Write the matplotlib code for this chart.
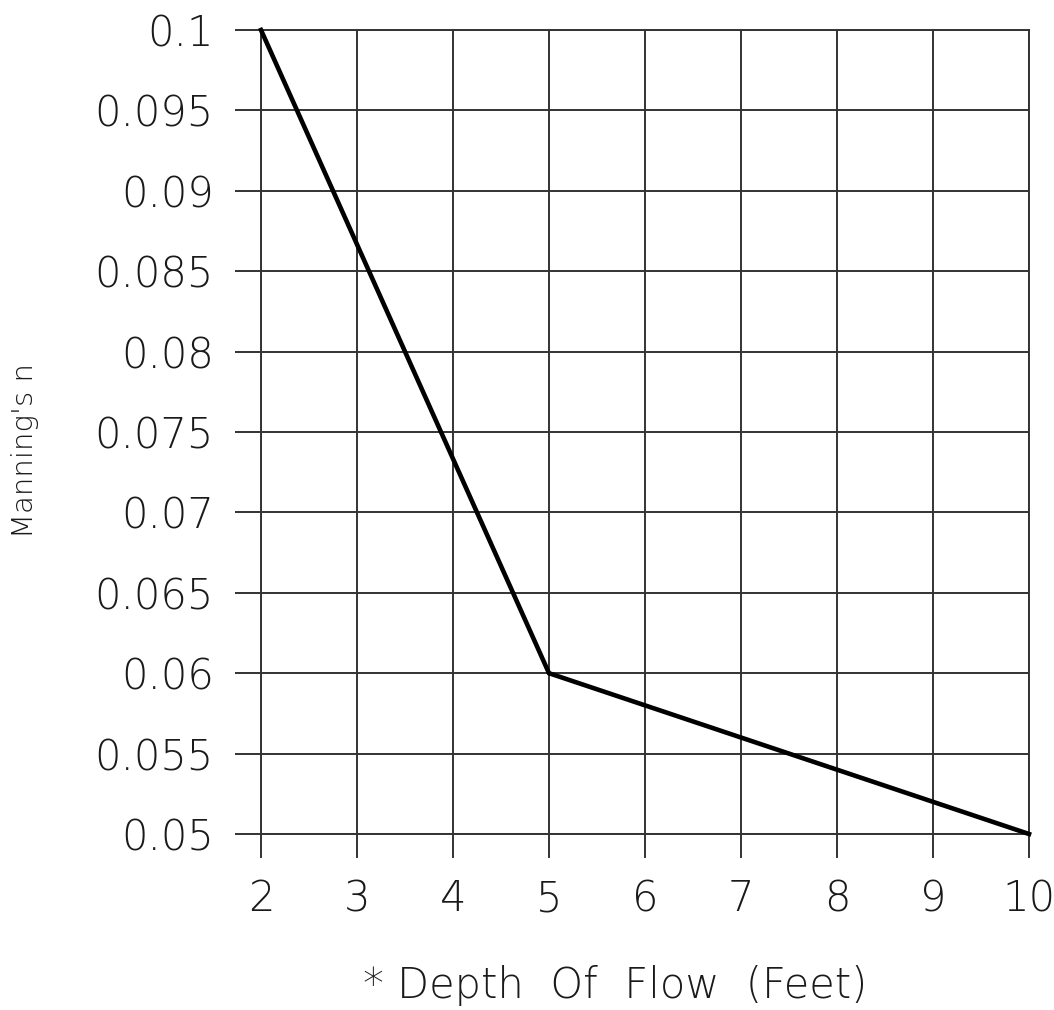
import matplotlib
matplotlib.use("Agg")
import matplotlib.pyplot as plt
from matplotlib.ticker import FuncFormatter

# Manning's roughness coefficient vs. depth of flow
depth_ft = [2, 5, 10]
mannings_n = [0.1, 0.06, 0.05]

x_ticks = [2, 3, 4, 5, 6, 7, 8, 9, 10]
y_ticks = [0.05, 0.055, 0.06, 0.065, 0.07, 0.075, 0.08, 0.085, 0.09, 0.095, 0.1]

x_label = "* Depth  Of  Flow  (Feet)"
y_label = "Manning's n"

plt.rcParams['font.family'] = ['DejaVu Sans']
plt.rcParams['font.weight'] = 'light'

ink = "#1a1a1a"
grid_col = "#333333"

fig = plt.figure(figsize=(10.54, 10.10), dpi=100)
ax = fig.add_axes([261 / 1054, 176 / 1010, 768 / 1054, 804 / 1010])

ax.plot(depth_ft, mannings_n, color="black", linewidth=3.3,
        solid_joinstyle="miter", zorder=3, clip_on=False)

ax.set_xlim(2, 10)
ax.set_ylim(0.05, 0.1)
ax.set_xticks(x_ticks)
ax.set_yticks(y_ticks)
ax.xaxis.set_major_formatter(FuncFormatter(lambda v, p: f"{v:g}"))
ax.yaxis.set_major_formatter(FuncFormatter(lambda v, p: f"{round(v, 3):g}"))

ax.grid(True, color=grid_col, linewidth=1.4)
ax.set_axisbelow(True)
for s in ax.spines.values():
    s.set_color(grid_col)
    s.set_linewidth(1.4)

ax.tick_params(axis="x", direction="out", length=17, width=1.4, color=grid_col,
               pad=15, labelsize=30, labelcolor=ink)
ax.tick_params(axis="y", direction="out", length=19, width=1.4, color=grid_col,
               pad=15, labelsize=30, labelcolor=ink)
for lab in ax.get_xticklabels() + ax.get_yticklabels():
    lab.set_fontweight("light")

ax.set_xlabel(x_label, fontsize=30, color=ink, labelpad=33, fontweight="light")
ax.xaxis.label.set_x((615 - 261) / 768)
fig.text(25 / 1054, 1 - 451 / 1010, y_label, rotation=90, fontsize=21,
         color=ink, ha="center", va="center", fontweight="light")

fig.savefig("out.png", dpi=100, facecolor="white")
